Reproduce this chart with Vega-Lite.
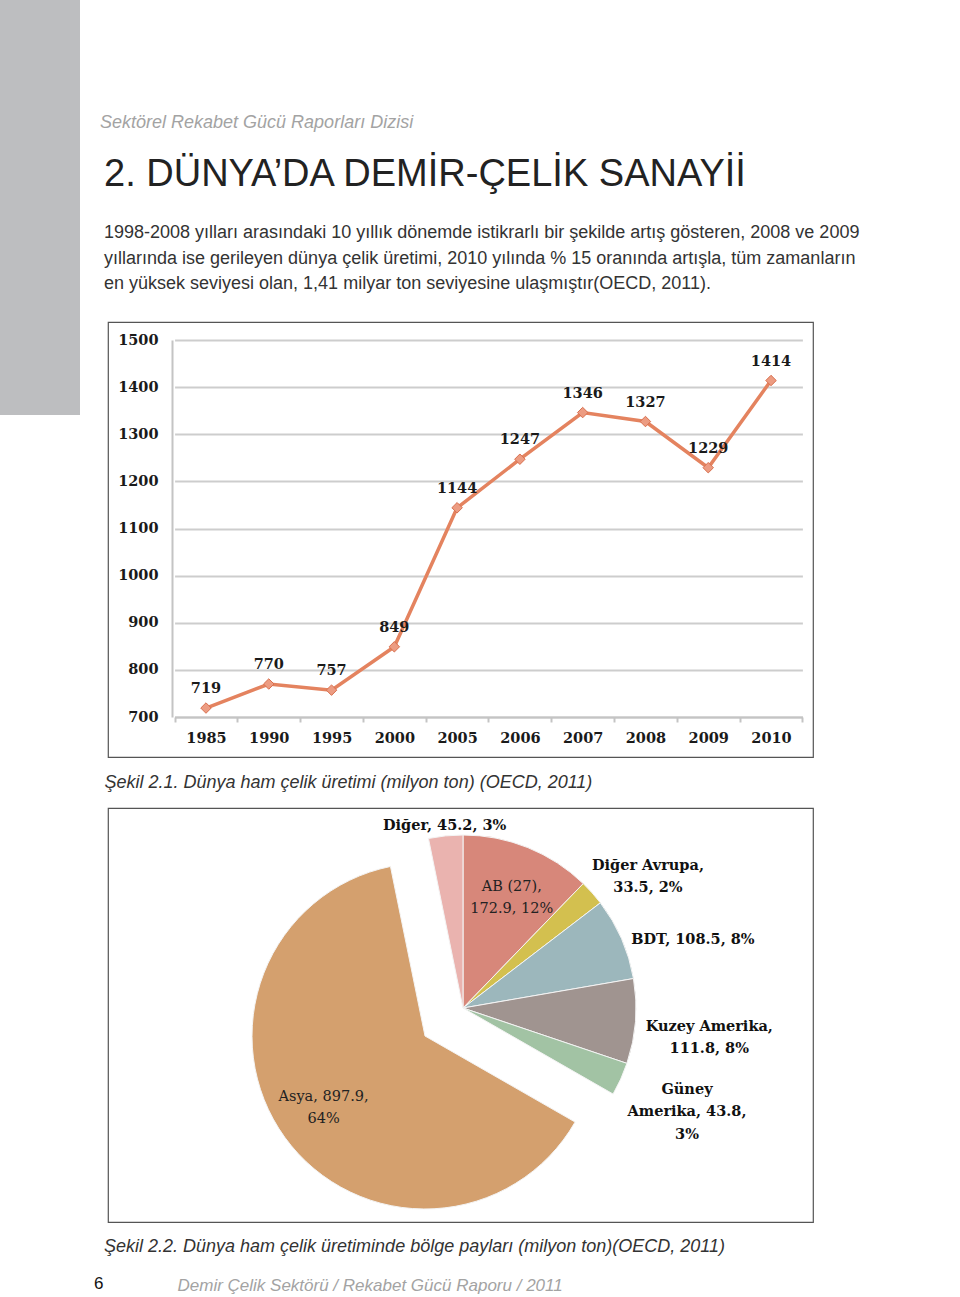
{
  "$schema": "https://vega.github.io/schema/vega-lite/v6.json",
  "padding": 0,
  "background": "white",
  "config": {"view": {"stroke": null}, "font": "Liberation Sans"},
  "spacing": 28,
  "bounds": "flush",
  "hconcat": [
    {
      "width": 80,
      "height": 415,
      "view": {"fill": "#bdbec0", "stroke": null},
      "title": {"text": "Sektörel Rekabet Gücü Raporları Dizisi", "orient": "top", "anchor": "start", "frame": "group", "dx": 100, "offset": -132, "font": "Liberation Sans", "fontSize": 18, "fontStyle": "italic", "fontWeight": "normal", "color": "#a3a3a3"},
      "data": {"values": [{}]},
      "mark": {"type": "text", "text": ""}
    },
    {
      "spacing": 51,
      "bounds": "flush",
      "vconcat": [
        {
          "width": 705,
          "height": 271,
          "title": {"text": "6", "orient": "bottom", "anchor": "start", "frame": "group", "dx": -14, "offset": 1005, "font": "Liberation Sans", "fontSize": 17, "fontWeight": "normal", "color": "#111111"},
          "data": {"values": [{}]},
          "mark": {"type": "text", "text": ""}
        },
        {
          "width": 705,
          "height": 435,
          "view": {"stroke": "#555555", "strokeWidth": 1.2},
          "title": {
            "text": "2. DÜNYA’DA DEMİR-ÇELİK SANAYİİ",
            "subtitle": [
              "1998-2008 yılları arasındaki 10 yıllık dönemde istikrarlı bir şekilde artış gösteren, 2008 ve 2009",
              "yıllarında ise gerileyen dünya çelik üretimi, 2010 yılında % 15 oranında artışla, tüm zamanların",
              "en yüksek seviyesi olan, 1,41 milyar ton seviyesine ulaşmıştır(OECD, 2011)."
            ],
            "orient": "top", "anchor": "start", "frame": "group", "dx": -4, "offset": 29,
            "font": "Liberation Sans", "fontSize": 38, "fontWeight": "normal", "color": "#222222",
            "subtitleFont": "Liberation Sans", "subtitleFontSize": 18, "subtitleColor": "#333333", "subtitleLineHeight": 25.5, "subtitlePadding": 30
          },
          "data": {"values": [
            {"year": "1985", "value": 719},
            {"year": "1990", "value": 770},
            {"year": "1995", "value": 757},
            {"year": "2000", "value": 849},
            {"year": "2005", "value": 1144},
            {"year": "2006", "value": 1247},
            {"year": "2007", "value": 1346},
            {"year": "2008", "value": 1327},
            {"year": "2009", "value": 1229},
            {"year": "2010", "value": 1414}
          ]},
          "encoding": {
            "x": {
              "field": "year", "type": "ordinal", "sort": null,
              "scale": {"type": "band", "range": [66.6, 694.4], "paddingInner": 0, "paddingOuter": 0},
              "axis": {
                "orient": "bottom", "offset": -40, "grid": false,
                "title": "Şekil 2.1. Dünya ham çelik üretimi (milyon ton) (OECD, 2011)",
                "titleX": -4, "titleY": 70, "titleAlign": "left", "titleBaseline": "alphabetic",
                "titleFont": "Liberation Sans", "titleFontSize": 18, "titleFontStyle": "italic", "titleFontWeight": "normal", "titleColor": "#333333",
                "labelAngle": 0, "labelFont": "DejaVu Serif", "labelFontWeight": "bold", "labelFontSize": 14.5, "labelColor": "#1a1a1a", "labelPadding": 9,
                "tickBand": "extent", "tickSize": 5, "tickColor": "#c4c4c4", "tickWidth": 2,
                "domainColor": "#c4c4c4", "domainWidth": 2
              }
            },
            "y": {
              "field": "value", "type": "quantitative",
              "scale": {"domain": [700, 1500], "range": [395, 18], "nice": false, "zero": false},
              "axis": {
                "orient": "left", "offset": -64, "format": "d",
                "values": [700, 800, 900, 1000, 1100, 1200, 1300, 1400, 1500],
                "title": "Demir Çelik Sektörü / Rekabet Gücü Raporu / 2011", "titleX": 5, "titleY": 963, "titleAngle": 0, "titleAlign": "left", "titleBaseline": "middle",
                "titleFont": "Liberation Sans", "titleFontSize": 17, "titleFontStyle": "italic", "titleFontWeight": "normal", "titleColor": "#a3a3a3",
                "labelFont": "DejaVu Serif", "labelFontWeight": "bold", "labelFontSize": 14.5, "labelColor": "#1a1a1a", "labelPadding": 14,
                "ticks": false, "domainColor": "#c4c4c4", "domainWidth": 2,
                "grid": true, "gridColor": "#cdcdcd", "gridWidth": 2
              }
            }
          },
          "layer": [
            {"mark": {"type": "line", "color": "#e4835f", "strokeWidth": 3.5}},
            {"mark": {"type": "point", "shape": "diamond", "filled": true, "size": 110, "color": "#ec9c82", "stroke": "#d9704f", "strokeWidth": 1, "opacity": 1}},
            {
              "mark": {"type": "text", "dy": -19, "font": "DejaVu Serif", "fontWeight": "bold", "fontSize": 14.5, "color": "#1a1a1a"},
              "encoding": {"text": {"field": "value", "type": "quantitative", "format": "d"}}
            }
          ]
        },
        {
          "width": 705,
          "height": 414,
          "view": {"stroke": "#555555", "strokeWidth": 1.2},
          "title": {
            "text": "Şekil 2.2. Dünya ham çelik üretiminde bölge payları (milyon ton)(OECD, 2011)",
            "orient": "bottom", "anchor": "start", "frame": "group", "dx": -4, "offset": 16,
            "font": "Liberation Sans", "fontSize": 18, "fontStyle": "italic", "fontWeight": "normal", "color": "#333333"
          },
          "data": {"values": [
            {"region": "AB (27)", "value": 172.9, "k": 1, "label": "AB (27),\n172.9, 12%"},
            {"region": "Diğer Avrupa", "value": 33.5, "k": 2, "label": "Diğer Avrupa,\n33.5, 2%"},
            {"region": "BDT", "value": 108.5, "k": 3, "label": "BDT, 108.5, 8%"},
            {"region": "Kuzey Amerika", "value": 111.8, "k": 4, "label": "Kuzey Amerika,\n111.8, 8%"},
            {"region": "Güney Amerika", "value": 43.8, "k": 5, "label": "Güney\nAmerika, 43.8,\n3%"},
            {"region": "Asya", "value": 897.9, "k": 6, "label": "Asya, 897.9,\n64%"},
            {"region": "Diğer", "value": 45.2, "k": 7, "label": "Diğer, 45.2, 3%"}
          ]},
          "encoding": {
            "theta": {"field": "value", "type": "quantitative", "stack": true},
            "order": {"field": "k", "type": "quantitative"}
          },
          "layer": [
            {
              "mark": {"type": "arc", "radius": 173, "xOffset": 2.5, "yOffset": -7, "stroke": "#f4f4f4", "strokeWidth": 1},
              "encoding": {
                "color": {"field": "region", "type": "nominal", "legend": null,
                  "scale": {"domain": ["AB (27)", "Diğer Avrupa", "BDT", "Kuzey Amerika", "Güney Amerika", "Asya", "Diğer"],
                            "range": ["#d7877a", "#d3c04f", "#9cb7bc", "#a09490", "#a2c3a4", "#d4a06e", "#eab3af"]}},
                "opacity": {"condition": {"test": "datum.region === 'Asya'", "value": 0}, "value": 1}
              }
            },
            {
              "mark": {"type": "arc", "radius": 173, "xOffset": -35.5, "yOffset": 21, "stroke": "#f4f4f4", "strokeWidth": 1},
              "encoding": {
                "color": {"field": "region", "type": "nominal", "legend": null},
                "opacity": {"condition": {"test": "datum.region === 'Asya'", "value": 1}, "value": 0}
              }
            },
            {
              "mark": {"type": "text", "radius": 183, "xOffset": 2.5, "yOffset": -7, "font": "DejaVu Serif", "fontSize": 14.5, "fontWeight": "bold", "color": "#111111", "lineBreak": "\n", "lineHeight": 22, "align": "center", "baseline": "middle"},
              "encoding": {"text": {"condition": {"test": "datum.region === 'Diğer'", "field": "label"}, "value": ""}}
            },
            {
              "mark": {"type": "text", "radius": 130, "xOffset": 2.5, "yOffset": -7, "font": "DejaVu Serif", "fontSize": 14.5, "fontWeight": "normal", "color": "#222222", "lineBreak": "\n", "lineHeight": 22, "align": "center", "baseline": "middle"},
              "encoding": {"text": {"condition": {"test": "datum.region === 'AB (27)'", "field": "label"}, "value": ""}}
            },
            {
              "mark": {"type": "text", "radius": 233, "xOffset": 2.5, "yOffset": -7, "dx": 11, "dy": 13, "font": "DejaVu Serif", "fontSize": 14.5, "fontWeight": "bold", "color": "#111111", "lineBreak": "\n", "lineHeight": 22, "align": "center", "baseline": "middle"},
              "encoding": {"text": {"condition": {"test": "datum.region === 'Diğer Avrupa'", "field": "label"}, "value": ""}}
            },
            {
              "mark": {"type": "text", "radius": 240, "xOffset": 2.5, "yOffset": -7, "dx": 10, "dy": 28, "font": "DejaVu Serif", "fontSize": 14.5, "fontWeight": "bold", "color": "#111111", "lineBreak": "\n", "lineHeight": 22, "align": "center", "baseline": "middle"},
              "encoding": {"text": {"condition": {"test": "datum.region === 'BDT'", "field": "label"}, "value": ""}}
            },
            {
              "mark": {"type": "text", "radius": 247, "xOffset": 2.5, "yOffset": -7, "font": "DejaVu Serif", "fontSize": 14.5, "fontWeight": "bold", "color": "#111111", "lineBreak": "\n", "lineHeight": 22, "align": "center", "baseline": "middle"},
              "encoding": {"text": {"condition": {"test": "datum.region === 'Kuzey Amerika'", "field": "label"}, "value": ""}}
            },
            {
              "mark": {"type": "text", "radius": 238, "xOffset": 2.5, "yOffset": -7, "dx": 7, "dy": -16, "font": "DejaVu Serif", "fontSize": 14.5, "fontWeight": "bold", "color": "#111111", "lineBreak": "\n", "lineHeight": 22.5, "align": "center", "baseline": "middle"},
              "encoding": {"text": {"condition": {"test": "datum.region === 'Güney Amerika'", "field": "label"}, "value": ""}}
            },
            {
              "mark": {"type": "text", "radius": 119, "xOffset": -35.5, "yOffset": 21, "dx": -5, "dy": -9, "font": "DejaVu Serif", "fontSize": 14.5, "fontWeight": "normal", "color": "#222222", "lineBreak": "\n", "lineHeight": 22, "align": "center", "baseline": "middle"},
              "encoding": {"text": {"condition": {"test": "datum.region === 'Asya'", "field": "label"}, "value": ""}}
            }
          ]
        }
      ]
    }
  ]
}
